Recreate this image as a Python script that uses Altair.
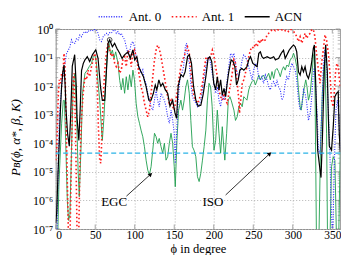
import altair as alt
import pandas as pd

# ---------------- data (phi in degree, log10 of P_B) ----------------
acn_phi = [0, 1.3, 3, 4.6, 6, 7.5, 9, 10.5, 12, 13, 15, 17.2, 19, 21, 24, 26, 27, 29.3, 31, 32.7, 35, 37, 40, 43, 46.5,
           50.7, 53.6, 56.6, 59, 62, 64, 66.2, 68.3, 71.7, 74.6, 77.5, 81, 84, 87, 91.4, 94.3, 97.7, 100, 102.7, 105,
           108, 111, 114.4, 117.8, 120.7, 123.6, 126, 128, 130.5, 133, 135.5, 138.7, 141.7, 144.6, 148, 151, 153, 155,
           158.4, 161.3, 163.8, 166.8, 169, 171.8, 174.4, 177.3, 180.2, 183.6, 186.5, 190, 192.8, 195, 197.4, 200,
           202.4, 204.5, 206.6, 208.7, 210.8, 213, 215, 217, 219, 222, 224.5, 226.7, 228.8, 231, 233, 235.5, 238, 240,
           242, 244.3, 246.5, 249.4, 252, 254.8, 257, 259, 261, 263, 267.4, 271.6, 275.8, 278, 282, 285.4, 288.3,
           290.4, 292.5, 295.5, 298.8, 301, 303, 305, 307.2, 309.3, 311.4, 313.5, 315.6, 317.7, 319.8, 322, 324, 326,
           327.3, 329, 331.5, 334.5, 335.7, 337.4, 340, 341.6, 343.7, 345, 346.2, 349, 351.2, 353.3, 355.4, 357.5,
           358.8, 360]
acn_log = [-6.8, -6.4, -5.0, -3.9, -2.8, -2.0, -1.5, -1.26, -2.0, -2.8, -3.65, -4.1, -3.0, -1.3, -0.9, -2.0, -3.1, -3.9,
           -2.8, -1.45, -1.2, -1.08, -0.97, -1.14, -0.9, -0.73, -1.03, -2.0, -2.5, -2.5, -1.55, -0.5, -0.38, -0.62,
           -0.5, -0.68, -0.85, -1.03, -0.91, -0.8, -1.03, -0.73, -1.08, -0.97, -1.32, -1.5, -1.67, -2.02, -2.49, -2.49,
           -2.25, -1.96, -2.13, -1.78, -2.0, -1.9, -2.13, -2.25, -2.7, -2.49, -2.95, -3.13, -2.0, -1.6, -1.67, -1.5,
           -0.97, -0.9, -1.2, -2.0, -2.49, -2.7, -2.67, -2.3, -1.67, -1.03, -0.97, -1.14, -1.9, -2.13, -1.67, -2.13,
           -1.78, -2.31, -2.08, -2.37, -1.9, -1.5, -1.08, -1.14, -1.32, -1.96, -1.78, -1.44, -1.38, -1.44, -1.38,
           -1.32, -1.08, -0.97, -1.2, -1.26, -1.32, -0.85, -0.8, -0.97, -1.03, -0.97, -1.03, -0.97, -1.08, -1.03,
           -0.85, -0.74, -1.03, -0.91, -0.74, -0.62, -0.56, -0.62, -0.8, -1.5, -1.61, -1.32, -1.5, -1.32, -1.61,
           -1.73, -1.5, -1.14, -0.68, -0.56, -1.9, -4.24, -4.94, -5.2, -3.9, -1.32, -0.55, -1.5, -3.07, -4.1, -4.24,
           -3.42, -2.37, -2.25, -2.19, -3.65, -4.3]

egc_phi = [0, 2, 4, 5.4, 7.5, 9.6, 11, 12.6, 14.7, 16.3, 18, 20, 22.2, 24.3, 26.4, 28.5, 29.8, 31.9, 34, 37, 40, 42.3,
           45.3, 47.4, 49.5, 51.6, 53.6, 55.7, 57.8, 59, 60.8, 63.3, 65, 67.5, 69.6, 71.7, 73.8, 75.9, 78.8, 81, 83, 85,
           87.2, 89.3, 91.4, 93.5, 95.6, 97.7, 99.7, 101.8, 104, 106, 108, 110.2, 112.3, 114.4, 116.5, 118.6, 120.7,
           122.8, 125, 127, 129, 131, 133.3, 135.4, 137.5, 139.6, 141.7, 143.8, 145.9, 148, 150, 151.3, 153.4, 155.5,
           158.4, 160.5, 162.6, 164.7, 166.8, 169, 171, 173, 175, 177.3, 179.4, 181.5, 183.6, 185.7, 187.8, 190, 192,
           194, 196, 198, 200.3, 202.4, 204.5, 206.6, 208.7, 210.8, 213, 214, 216.3, 218.4, 220.5, 222, 225.5, 227.5,
           229.7, 231.8, 234, 236, 238, 240, 242, 244.3, 246.4, 248.5, 250.6, 252.7, 255, 257, 259, 261, 263, 265.3,
           267.4, 269.5, 271.6, 273.7, 275.8, 277.9, 280, 282, 284.2, 286.3, 288.3, 290.4, 292.5, 294.6, 296.7, 298.8,
           301, 303, 305, 307.2, 309.3, 310.6, 312.2, 314.7, 316.4, 318, 319.8, 322, 324, 326, 327.3, 328.3, 330, 333,
           335, 337.4, 339.5, 340.7, 342.8, 344, 347, 349, 351.2, 353.3, 355.4, 358, 360]
egc_log = [-8, -8, -5.5, -4.6, -3.3, -2.5, -2.5, -3.9, -6.0, -6.7, -6.5, -4.24, -1.9, -1.55, -3.07, -5.05, -5.87, -4.24,
           -2.25, -1.55, -1.44, -1.32, -1.2, -0.97, -0.91, -1.2, -1.9, -2.49, -3.42, -3.9, -3.2, -1.9, -0.97, -0.5,
           -0.91, -0.74, -1.03, -0.8, -1.2, -1.8, -2.13, -1.73, -2.25, -1.67, -2.13, -1.6, -2.02, -1.44, -1.78, -2.6,
           -3.07, -3.3, -3.54, -3.77, -4.12, -4.59, -4.94, -5.1, -4.82, -4.24, -3.65, -3.77, -4.0, -3.83, -4.12, -4.35,
           -4.0, -4.59, -4.47, -4.0, -3.65, -4.0, -4.82, -5.52, -3.9, -2.84, -2.49, -2.84, -2.49, -2.02, -1.78, -2.25,
           -3.2, -4.12, -4.24, -4.47, -5.17, -5.34, -5.05, -4.59, -4.12, -3.54, -2.49, -1.9, -2.02, -2.72, -4.24,
           -3.9, -2.84, -3.65, -4.35, -3.42, -4.24, -4.59, -3.65, -2.49, -2.37, -2.49, -2.84, -3.2, -3.07, -2.72,
           -2.6, -2.72, -2.37, -2.43, -2.49, -2.13, -1.96, -1.84, -1.78, -1.96, -1.78, -1.61, -1.78, -1.67, -1.61,
           -1.78, -1.67, -1.55, -1.78, -1.49, -1.73, -1.44, -1.38, -1.49, -1.67, -1.44, -1.32, -1.44, -1.26, -1.32,
           -1.08, -1.03, -0.85, -1.03, -1.32, -2.13, -2.72, -2.84, -2.49, -2.02, -1.78, -2.02, -2.49, -2.25, -1.67,
           -0.97, -0.85, -2.5, -7.5, -7.5, -4.24, -2.25, -1.32, -1.08, -3.65, -7.5, -7.5, -4.82, -4.47, -4.6, -7.5,
           -7.5, -4.3]

ant0_phi = [0, 1.5, 2, 4.6, 7.5, 9.6, 11.7, 13.8, 16, 18, 20, 22.2, 24.3, 26.4, 28.5, 30.6, 32.7, 34.8, 37, 39, 41, 43,
            45.3, 47.4, 49.5, 51.6, 53.6, 55.7, 57.8, 60, 62, 64.1, 66.2, 68.3, 70.4, 72.5, 74.6, 76.7, 78.8, 81, 83, 85,
            87.2, 89.3, 91.4, 93.5, 95.6, 97.7, 99.7, 101.8, 104, 106, 108, 110.2, 112.3, 114.4, 116.5, 118.6, 120.7,
            122.8, 125, 127, 129, 131, 133.3, 135.4, 137.5, 139.6, 141.7, 143.8, 146, 148, 150, 151.3, 153, 155, 157,
            159.7, 161.8, 164, 165.5, 167, 169, 171, 173, 175, 177.3, 179.4, 181.5, 183.6, 185.7, 187.8, 190, 192, 194,
            196, 198, 200.3, 202.4, 204.5, 206.6, 208.7, 210.8, 213, 215, 217, 219, 221.3, 223.4, 225.5, 227.5, 229.7,
            231.8, 234, 236, 238, 240, 242, 244.3, 246.4, 248.5, 250.6, 252.7, 255, 257, 259, 261, 263, 265.3, 267.4,
            269.5, 271.6, 273.7, 275.8, 277.9, 280, 282, 284.2, 286.3, 288.3, 290.4, 292.5, 294.6, 296.7, 298.8, 301,
            303, 305, 307.2, 309.3, 311.4, 313.5, 315.6, 317.7, 319.8, 322, 324, 326, 327.3, 329, 331, 332.4, 334.5,
            336.5, 338.6, 340.7, 342.8, 345, 347, 348.3, 350.4, 352.5, 354.6, 356.5, 358.3, 360]
ant0_log = [-8, -8, -6.5, -3.07, -2.0, -1.5, -1.2, -0.85, -0.74, -0.62, -0.38, -0.5, -0.5, -0.33, -0.38, -0.21, -0.27,
            -0.15, -0.09, -0.15, -0.06, -0.09, -0.03, -0.06, -0.01, -0.03, -0.15, -0.38, -0.44, -0.27, -0.21, -0.15,
            -0.21, -0.13, -0.15, -0.06, -0.03, -0.15, -0.09, -0.21, -0.15, -0.27, -0.38, -0.62, -0.85, -0.8, -0.5,
            -0.44, -0.62, -0.97, -1.2, -1.32, -1.55, -1.43, -1.78, -1.9, -2.25, -2.49, -2.72, -2.84, -2.49, -2.13,
            -2.49, -2.72, -2.25, -2.37, -2.49, -2.72, -3.07, -3.3, -2.84, -3.18, -3.65, -4.7, -3.65, -2.49, -1.78,
            -1.55, -1.32, -0.62, -0.5, -0.97, -1.2, -1.9, -2.37, -2.49, -2.6, -2.72, -2.66, -2.49, -2.13, -1.67, -1.32,
            -1.03, -0.97, -1.2, -1.55, -1.9, -2.25, -2.02, -2.49, -2.72, -2.25, -2.49, -2.25, -1.78, -1.32, -0.85,
            -0.97, -0.85, -1.2, -1.55, -1.67, -1.38, -1.08, -0.91, -0.97, -1.08, -1.32, -1.55, -1.78, -1.43, -1.2,
            -1.32, -1.73, -1.78, -1.67, -1.9, -1.61, -1.78, -2.02, -2.13, -1.9, -1.84, -2.02, -1.78, -2.02, -2.13,
            -2.49, -2.37, -1.9, -1.67, -1.78, -1.43, -1.2, -1.32, -1.43, -1.78, -2.49, -2.84, -2.72, -2.13, -2.25,
            -2.6, -3.2, -2.95, -2.37, -1.55, -1.32, -2.02, -3.07, -4.24, -4.35, -3.07, -1.32, -0.74, -1.32, -2.84,
            -4.35, -5.98, -7.5, -4.82, -2.84, -2.49, -3.07, -4.2]

ant1_phi = [0, 1.3, 2.5, 3.4, 4.6, 6, 7.5, 9, 10.5, 11.7, 13, 14.7, 16.3, 18, 19.3, 20.7, 22.2, 23, 24.3, 25.7, 27.2, 29,
            30.6, 32.7, 34.8, 37, 39, 41, 43, 45.3, 47.4, 49.5, 50.8, 52.4, 54, 55.7, 57, 57.8, 59, 60.8, 62.4, 64.1,
            66.2, 68.3, 70.4, 72.5, 74.6, 76.7, 78.8, 81, 83, 85, 87.2, 89.3, 91.4, 93.5, 95.6, 97.7, 99.7, 101.8, 104,
            106, 108, 110.2, 112.3, 114.4, 116.5, 118.6, 120.7, 122.8, 125, 127, 129, 131, 133.3, 135.4, 137.5, 139.6,
            141.7, 143.8, 146, 148, 150, 152, 154.2, 156.3, 158.4, 160.5, 162.6, 164.7, 166.8, 169, 171, 173, 175,
            177.3, 179.4, 181.5, 183.6, 185.7, 187.8, 190, 192, 194, 196, 198.2, 200.3, 202.4, 204.5, 206.6, 208.7,
            210.8, 213, 215, 217, 219.2, 221.3, 223.4, 225.5, 227.5, 229.7, 231.8, 232.6, 234, 236, 238, 240, 242,
            244.3, 246.4, 248.5, 250.6, 252.7, 255, 257, 259, 261, 263, 265.3, 267.4, 269.5, 271.6, 273.7, 275.8,
            277.9, 280, 282, 284.2, 286.3, 288.3, 290.4, 292.5, 294.6, 296.7, 298.8, 301, 303, 305, 307.2, 309.3,
            311.4, 313.5, 315.6, 317.7, 319.8, 322, 324, 326, 328, 330, 332.4, 334.5, 336.5, 338.6, 340.7, 342.8, 345,
            347, 349, 351.2, 352.5, 354, 355.8, 357.5, 359.6, 360]
ant1_log = [-4.6, -4.2, -3.0, -2.25, -1.78, -1.9, -1.55, -1.7, -0.85, -1.32, -3.07, -5.4, -7.5, -7.5, -5.4, -3.4, -1.78,
            -1.55, -2.5, -4.6, -7.5, -7.5, -4.82, -3.07, -2.25, -1.67, -1.78, -1.44, -1.67, -1.32, -1.08, -0.85,
            -1.03, -1.78, -3.42, -4.59, -4.7, -4.24, -3.2, -2.02, -1.32, -0.85, -0.5, -0.74, -0.97, -0.85, -1.2,
            -1.32, -1.2, -1.55, -1.43, -1.08, -0.97, -1.32, -0.74, -0.85, -1.32, -0.85, -0.74, -0.97, -1.32, -1.67,
            -2.02, -2.25, -2.6, -2.84, -3.07, -2.84, -2.25, -1.67, -1.08, -0.74, -0.56, -0.68, -0.97, -1.32, -1.67,
            -2.02, -2.37, -2.6, -2.49, -2.72, -2.84, -2.49, -2.13, -1.67, -1.32, -1.08, -0.97, -0.74, -0.62, -0.85,
            -1.44, -2.02, -2.37, -2.49, -2.6, -2.49, -2.25, -1.9, -1.43, -1.03, -0.97, -1.08, -0.97, -0.74, -0.97,
            -1.32, -1.67, -2.13, -2.37, -2.49, -2.25, -2.49, -2.6, -2.25, -1.9, -1.55, -1.08, -1.2, -1.9, -2.49,
            -2.95, -2.49, -1.9, -1.78, -1.55, -1.32, -0.97, -0.74, -0.62, -0.68, -0.5, -0.62, -0.38, -0.5, -0.33,
            -0.44, -0.38, -0.21, -0.15, -0.09, -0.03, -0.01, -0.06, -0.01, -0.03, -0.01, -0.03, -0.01, -0.06, -0.03,
            -0.09, -0.01, -0.03, -0.09, -0.15, -0.27, -0.44, -0.27, -0.5, -0.33, -0.15, -0.33, -0.21, -0.15, -0.03,
            -0.01, -0.27, -0.85, -1.43, -1.9, -1.2, -0.74, -0.2, -0.4, -0.85, -1.55, -2.49, -2.72, -2.25, -1.55, -1.2,
            -1.32, -1.9, -2.0]

series_names = ["Ant. 0", "Ant. 1", "ACN"]
series_colors = ["#2a2aff", "#ff1a1a", "#000000"]
series_dash = [[1, 1.5], [1.6, 2.4], [1, 0]]

iso_level = [4.5e-5]
marker_phi = [68.3]
marker_log = [-0.38]

ann_text = ["EGC", "ISO"]
ann_text_phi = [74, 199]
ann_text_log = [-6.04, -6.04]
ann_start_phi = [89.5, 215]
ann_start_log = [-5.85, -5.81]
ann_tip_phi = [119.5, 270.3]
ann_tip_log = [-5.1, -4.375]

x_ticks = [0, 50, 100, 150, 200, 250, 300, 350]
y_ticks = [1e-7, 1e-6, 1e-5, 1e-4, 1e-3, 1e-2, 1e-1, 1]
y_minor = [k * 10.0 ** d for d in range(-7, 0) for k in range(2, 10)]

W, H = 284.5, 200

# ---------------- frames ----------------
def frame(phi, lg, name):
    return pd.DataFrame({"phi": phi, "p": [10.0 ** v for v in lg], "series": name})

df_acn = frame(acn_phi, acn_log, "ACN")
df_egc = frame(egc_phi, egc_log, "EGC")
df_a0 = frame(ant0_phi, ant0_log, "Ant. 0")
df_a1 = frame(ant1_phi, ant1_log, "Ant. 1")
df_iso = pd.DataFrame({"p": iso_level})
df_mark = pd.DataFrame({"phi": marker_phi, "p": [10.0 ** v for v in marker_log]})
df_minor = pd.DataFrame({"p": y_minor})
df_major = pd.DataFrame({"p": y_ticks})
df_xt = pd.DataFrame({"phi": x_ticks})
df_ann = pd.DataFrame({
    "text": ann_text,
    "tphi": ann_text_phi, "tp": [10.0 ** v for v in ann_text_log],
    "sphi": ann_start_phi, "sp": [10.0 ** v for v in ann_start_log],
    "ephi": ann_tip_phi, "ep": [10.0 ** v for v in ann_tip_log],
})

FONT = "Liberation Serif"
FRAME = "#8f8f8f"

xscale = alt.Scale(domain=[0, 360], nice=False)
yscale = alt.Scale(type="log", domain=[1e-7, 1], nice=False)

label_expr = ("datum.value > 0.5 ? '10⁰' : datum.value > 0.05 ? '10⁻¹' : datum.value > 0.005 ? '10⁻²' : "
              "datum.value > 0.0005 ? '10⁻³' : datum.value > 0.00005 ? '10⁻⁴' : datum.value > 0.000005 ? '10⁻⁵' : "
              "datum.value > 0.0000005 ? '10⁻⁶' : '10⁻⁷'")

x_axis = alt.Axis(values=x_ticks, grid=True, gridDash=[1, 2], gridColor="#b4b4b4", ticks=False, tickSize=0,
                  domain=False, labelFont=FONT, labelFontSize=11.5, labelPadding=0, labelColor="#000",
                  title="ϕ in degree", titleFont=FONT, titleFontSize=12.5, titleFontWeight="normal",
                  titleColor="#000", titleY=19.5, titleBaseline="middle")
y_axis = alt.Axis(values=y_ticks, grid=True, gridDash=[1, 2], gridColor="#b4b4b4", ticks=False, tickSize=0,
                  domain=False, labelFont=FONT, labelFontSize=12, labelPadding=3, labelColor="#000",
                  labelExpr=label_expr, title="Pʙ(ϕ, α*, β, K)", titleFont=FONT, titleFontSize=13,
                  titleFontWeight="normal", titleFontStyle="italic", titleColor="#000",
                  titleX=-40, titleY=108, titleAngle=270, titleBaseline="middle", titleAlign="center")

color_scale = alt.Scale(domain=series_names, range=series_colors)
dash_scale = alt.Scale(domain=series_names, range=series_dash)
legend = alt.Legend(orient="none", legendX=42, legendY=-26, direction="horizontal", title=None,
                    symbolType="stroke", symbolSize=625, symbolStrokeWidth=1.5, labelFont=FONT,
                    labelFontSize=13, labelOffset=4, columnPadding=7, padding=0, labelColor="#000")


def X(field):
    return alt.X(field, type="quantitative", scale=xscale, axis=x_axis)


def Y(field):
    return alt.Y(field, type="quantitative", scale=yscale, axis=y_axis)


def series_layer(df, width):
    return alt.Chart(df).mark_line(clip=True, strokeWidth=width).encode(
        x=X("phi"), y=Y("p"),
        color=alt.Color("series:N", scale=color_scale, legend=legend),
        strokeDash=alt.StrokeDash("series:N", scale=dash_scale, legend=legend),
    )

green = alt.Chart(df_egc).mark_line(clip=True, strokeWidth=0.9, color="#1f9e4e").encode(x=X("phi"), y=Y("p"))
blue = series_layer(df_a0, 1.1)
red = series_layer(df_a1, 1.6)
black = series_layer(df_acn, 1.2)

iso = alt.Chart(df_iso).mark_rule(color="#2bb3e6", strokeWidth=1.2, strokeDash=[5, 3]).encode(y=Y("p"))

marker = alt.Chart(df_mark).mark_point(shape="circle", size=22, color="#000", strokeWidth=1, filled=False).encode(
    x=X("phi"), y=Y("p")
)

arrows = alt.Chart(df_ann).mark_rule(color="#000", strokeWidth=0.8).encode(
    x=X("sphi"), y=Y("sp"), x2="ephi:Q", y2="ep:Q",
)
heads = alt.Chart(df_ann).mark_point(shape="triangle", size=22, angle=48, filled=True, color="#000",
                                     opacity=1).encode(x=X("ephi"), y=Y("ep"))
texts = alt.Chart(df_ann).mark_text(font=FONT, fontSize=13, color="#000", baseline="middle", align="center").encode(
    x=X("tphi"), y=Y("tp"), text="text:N"
)

# inward frame ticks
tick_layers = []
for x0, x1, data, w in [(0, 2.5, df_minor, 0.6), (W - 2.5, W, df_minor, 0.6),
                        (0, 4.5, df_major, 0.8), (W - 4.5, W, df_major, 0.8)]:
    tick_layers.append(alt.Chart(data).mark_rule(color=FRAME, strokeWidth=w).encode(
        y=Y("p"), x=alt.value(x0), x2=alt.value(x1)))
for y0, y1 in [(0, 4.5), (H - 4.5, H)]:
    tick_layers.append(alt.Chart(df_xt).mark_rule(color=FRAME, strokeWidth=0.8).encode(
        x=X("phi"), y=alt.value(y0), y2=alt.value(y1)))

chart = alt.layer(*tick_layers, green, blue, red, black, iso, marker, arrows, heads, texts).properties(
    width=W, height=H,
    autosize=alt.AutoSizeParams(type="none"),
    padding={"left": 47.7, "top": 21, "right": 0.8, "bottom": 26},
).configure_view(stroke=FRAME, strokeWidth=1)

chart.save("out.html", embed_options={"renderer": "svg", "actions": False})
